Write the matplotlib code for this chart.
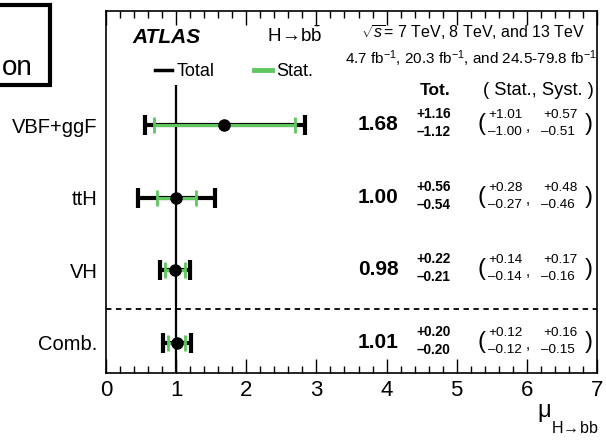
import numpy as np
import matplotlib
matplotlib.use('Agg')
import matplotlib.pyplot as plt
from matplotlib.lines import Line2D
from matplotlib.patches import Rectangle
from matplotlib.ticker import MultipleLocator

plt.rcParams['font.family'] = ['Liberation Sans', 'DejaVu Sans']
plt.rcParams['mathtext.fontset'] = 'custom'
plt.rcParams['mathtext.rm'] = 'Liberation Sans'
plt.rcParams['mathtext.it'] = 'Liberation Sans:italic'
plt.rcParams['mathtext.bf'] = 'Liberation Sans:bold'

# measurements (signal strength, H->bb)
labels = ['VBF+ggF', 'ttH', 'VH', 'Comb.']
mu = [1.68, 1.00, 0.98, 1.01]
tot_up = [1.16, 0.56, 0.22, 0.20]
tot_dn = [1.12, 0.54, 0.21, 0.20]
stat_up = [1.01, 0.28, 0.14, 0.12]
stat_dn = [1.00, 0.27, 0.14, 0.12]
syst_up = [0.57, 0.48, 0.17, 0.16]
syst_dn = [0.51, 0.46, 0.16, 0.15]

green = '#5ec85e'
W, H = 606, 440
fig = plt.figure(figsize=(W / 100, H / 100), dpi=100)
ax = fig.add_axes([106 / W, 67 / H, 491 / W, 362 / H])
ax.set_xlim(0, 7)
ax.set_ylim(0, 5)
ppu = 362 / 5.0  # pixels per y unit

rows = np.arange(len(labels))[::-1] + 0.42

ax.vlines(1, 0, 3.98, color='black', lw=1.6, zorder=1)
ax.axhline(0.88, color='black', lw=1.3, ls=(0, (3, 2.5)), zorder=1)

ax.errorbar(mu, rows, xerr=[tot_dn, tot_up], fmt='none', ecolor='black',
            elinewidth=3.0, capsize=7, capthick=3, zorder=2)
ax.errorbar(mu, rows, xerr=[stat_dn, stat_up], fmt='none', ecolor=green,
            elinewidth=2.2, capsize=5.5, capthick=2, zorder=3)
ax.plot(mu, rows, 'o', color='black', ms=8, zorder=4)

ax.set_yticks(rows, labels, fontsize=14.5)
ax.tick_params(axis='y', length=0, pad=6)
ax.xaxis.set_major_locator(MultipleLocator(1))
ax.xaxis.set_minor_locator(MultipleLocator(0.2))
ax.tick_params(axis='x', which='major', direction='in', top=True, length=10,
               width=1, labelsize=16, pad=5)
ax.tick_params(axis='x', which='minor', direction='in', top=True, length=5, width=1)
for s in ax.spines.values():
    s.set_linewidth(1.2)


def px(x):
    return (x - 106) / 70.0


def dy(p):
    return p / ppu


for i, y in enumerate(rows):
    ax.text(px(398), y - dy(5), f'{mu[i]:.2f}', fontsize=15, fontweight='bold',
            ha='right', va='baseline')
    ax.text(px(416), y + dy(7), f'+{tot_up[i]:.2f}', fontsize=9.8,
            fontweight='bold', ha='left', va='baseline')
    ax.text(px(416), y - dy(11), f'\u2013{tot_dn[i]:.2f}', fontsize=9.8,
            fontweight='bold', ha='left', va='baseline')
    ax.text(px(477), y + dy(1), '(', fontsize=17, ha='left', va='center')
    ax.text(px(488), y + dy(7), f'+{stat_up[i]:.2f}', fontsize=9.7,
            ha='left', va='baseline')
    ax.text(px(487), y - dy(10), f'\u2013{stat_dn[i]:.2f}', fontsize=9.7,
            ha='left', va='baseline')
    ax.text(px(527), y - dy(2), ',', fontsize=11, ha='center', va='center')
    ax.text(px(542), y + dy(7), f'+{syst_up[i]:.2f}', fontsize=9.7,
            ha='left', va='baseline')
    ax.text(px(540), y - dy(10), f'\u2013{syst_dn[i]:.2f}', fontsize=9.7,
            ha='left', va='baseline')
    ax.text(px(592), y + dy(1), ')', fontsize=17, ha='right', va='center')

# header texts
yb = lambda p: (373 - p) / ppu
ax.text(px(132), yb(43), 'ATLAS', fontsize=15, fontweight='bold',
        fontstyle='italic', ha='left', va='baseline')
ax.text(px(267), yb(42), r'H$\!\rightarrow\!$b$\bar{\mathrm{b}}$', fontsize=13.5,
        ha='left', va='baseline')
ax.text(px(584), yb(38), r'$\sqrt{s}$= 7 TeV, 8 TeV, and 13 TeV', fontsize=11.5,
        ha='right', va='baseline')
ax.text(px(596), yb(64),
        r'4.7 fb$^{\mathregular{-1}}$, 20.3 fb$^{\mathregular{-1}}$, and 24.5-79.8 fb$^{\mathregular{-1}}$',
        fontsize=11, ha='right', va='baseline')
ax.text(px(450), yb(95), 'Tot.', fontsize=12.5, fontweight='bold',
        ha='right', va='baseline')
ax.text(px(593), yb(95), '( Stat., Syst. )', fontsize=13.2,
        ha='right', va='baseline')

handles = [Line2D([], [], color='black', lw=2.5, label='Total'),
           Line2D([], [], color=green, lw=3.5, label='Stat.')]
ax.legend(handles=handles, ncol=2, loc='center left',
          bbox_to_anchor=((155 - 106) / 491, (373 - 72) / 362),
          frameon=False, fontsize=13, handlelength=0.95, handletextpad=0.25,
          columnspacing=2.2, borderpad=0, borderaxespad=0)

# x axis title
fig.text(537 / W, 1 - 417 / H, '\u03bc', fontsize=17, ha='left', va='baseline')
fig.text(551 / W, 1 - 433 / H, r'H$\!\rightarrow\!$bb', fontsize=11.5,
         ha='left', va='baseline')

# cropped box at top left
fig.patches.append(Rectangle((-0.2, 1 - 85 / H), 0.2 + 50 / W, 80 / H,
                             transform=fig.transFigure, fill=False,
                             edgecolor='black', lw=3))
fig.text(2 / W, 1 - 75 / H, 'on', fontsize=20, ha='left', va='baseline')

fig.savefig('out.png', dpi=100)
